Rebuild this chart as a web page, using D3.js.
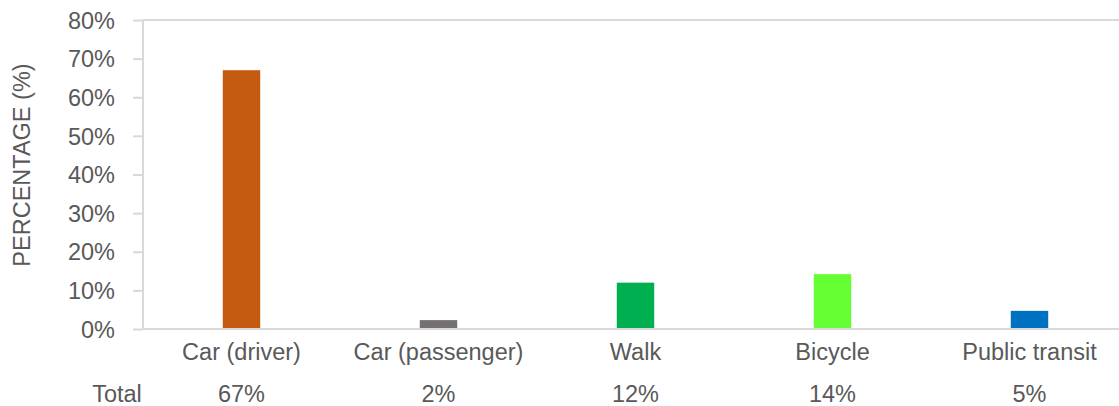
<!DOCTYPE html>
<html><head><meta charset="utf-8">
<script src="https://cdn.jsdelivr.net/npm/d3@7"></script>
<style>body{margin:0;background:#fff;overflow:hidden}svg{display:block}</style>
</head><body>
<svg id="c" width="1119" height="406"></svg>
<script>
const categories = ["Car (driver)", "Car (passenger)", "Walk", "Bicycle", "Public transit"];
const values = [67, 2.3, 12, 14.2, 4.7];
const totals = ["67%", "2%", "12%", "14%", "5%"];
const colors = ["#C55A11", "#767171", "#00B050", "#66FF33", "#0070C0"];
const yTicks = [0, 10, 20, 30, 40, 50, 60, 70, 80];

const svg = d3.select("#c");
const font = "Liberation Sans, Arial, sans-serif";
const textColor = "#595959";
const lineColor = "#d9d9d9";
const fs = 23.5;

const x = d3.scaleBand().domain(categories).range([143, 1128]).paddingInner(0).paddingOuter(0);
const y = d3.scaleLinear().domain([0, 80]).range([329, 20]);
const barW = x.bandwidth() * 0.19;

// y axis
const yAxis = d3.axisLeft(y).tickValues(yTicks).tickSize(10).tickFormat(d => d + "%");
const gy = svg.append("g").attr("transform", "translate(143,0)").call(yAxis);
gy.select(".domain").attr("stroke", lineColor).attr("stroke-width", 2).attr("d", "M0,20V329");
gy.selectAll(".tick line").attr("stroke", lineColor).attr("stroke-width", 2);
gy.selectAll(".tick text").attr("fill", textColor).attr("font-family", font).attr("font-size", fs).attr("x", -28).attr("dy", "0.35em");

// top line (80%)
svg.append("line").attr("x1", 143).attr("x2", 1119).attr("y1", y(80)).attr("y2", y(80))
  .attr("stroke", lineColor).attr("stroke-width", 2);

// bars
svg.selectAll("rect.bar").data(categories).join("rect").attr("class", "bar")
  .attr("x", d => x(d) + x.bandwidth() / 2 - barW / 2)
  .attr("width", barW)
  .attr("y", (d, i) => y(values[i]))
  .attr("height", (d, i) => y(0) - y(values[i]))
  .attr("fill", (d, i) => colors[i]);

// x axis line
svg.append("line").attr("x1", 143).attr("x2", 1119).attr("y1", y(0)).attr("y2", y(0))
  .attr("stroke", lineColor).attr("stroke-width", 2);

// category labels
svg.selectAll("text.cat").data(categories).join("text").attr("class", "cat")
  .attr("x", d => x(d) + x.bandwidth() / 2).attr("y", 360)
  .attr("text-anchor", "middle").attr("fill", textColor)
  .attr("font-family", font).attr("font-size", fs).text(d => d);

// totals row
svg.append("text").attr("x", 117).attr("y", 402).attr("text-anchor", "middle")
  .attr("fill", textColor).attr("font-family", font).attr("font-size", fs).text("Total");
svg.selectAll("text.tot").data(categories).join("text").attr("class", "tot")
  .attr("x", d => x(d) + x.bandwidth() / 2).attr("y", 402)
  .attr("text-anchor", "middle").attr("fill", textColor)
  .attr("font-family", font).attr("font-size", fs).text((d, i) => totals[i]);

// y title
svg.append("text").attr("transform", "translate(30,165) rotate(-90)")
  .attr("text-anchor", "middle").attr("fill", textColor)
  .attr("font-family", font).attr("font-size", fs).text("PERCENTAGE (%)");
</script>
</body></html>
